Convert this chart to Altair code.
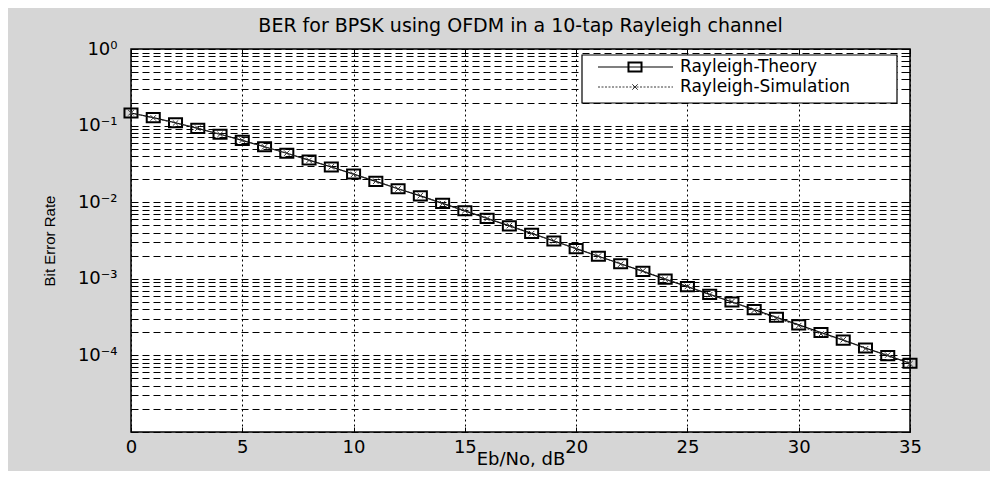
import altair as alt
import pandas as pd

# ---------------- data ----------------
ebno_db = list(range(0, 36))
ber_theory = [0.146, 0.127, 0.109, 0.0919, 0.0771, 0.0642, 0.0530, 0.0435, 0.0355, 0.0288,
              0.0233, 0.0187, 0.0150, 0.0121, 0.00966, 0.00772, 0.00616, 0.00491, 0.00392, 0.00312,
              0.00248, 0.00197, 0.00157, 0.00125, 0.000992, 0.000789, 0.000627, 0.000498, 0.000396, 0.000315,
              0.000250, 0.000199, 0.000158, 0.000125, 0.0000995, 0.0000791]
ber_sim = [0.147, 0.126, 0.108, 0.0925, 0.0768, 0.0645, 0.0528, 0.0437, 0.0352, 0.0290,
           0.0231, 0.0188, 0.0149, 0.0122, 0.00960, 0.00775, 0.00612, 0.00495, 0.00389, 0.00314,
           0.00246, 0.00198, 0.00155, 0.00127, 0.000985, 0.000795, 0.000620, 0.000505, 0.000388, 0.000305,
           0.000245, 0.000190, 0.000160, 0.000122, 0.000101, 0.0000780]
series_names = ["Rayleigh-Theory", "Rayleigh-Simulation"]
title_text = "BER for BPSK using OFDM in a 10-tap Rayleigh channel"
x_title = "Eb/No, dB"
y_title = "Bit Error Rate"
x_ticks = [0, 5, 10, 15, 20, 25, 30, 35]
y_major = [1, 0.1, 0.01, 0.001, 0.0001]
y_major_labels = ["10\u2070", "10\u207b\u00b9", "10\u207b\u00b2", "10\u207b\u00b3", "10\u207b\u2074"]
y_grid = [round(k * 10.0 ** e, 12) for e in range(-5, 0) for k in range(1, 10)] + [1.0]

# ---------------- layout ----------------
W, H = 779, 383
FONT = "DejaVu Sans"
RECT = "M-1,-0.7H1V0.7H-1Z"
XSHAPE = "M-1,-1L1,1M-1,1L1,-1"

df = pd.DataFrame({
    "ebno": ebno_db + ebno_db,
    "ber": ber_theory + ber_sim,
    "series": [series_names[0]] * len(ebno_db) + [series_names[1]] * len(ebno_db),
})
theory = df[df["series"] == series_names[0]]
sim = df[df["series"] == series_names[1]]

label_expr = "''"
for v, lab in reversed(list(zip(y_major, y_major_labels))):
    label_expr = f"abs(datum.value - {v}) < {v * 1e-6} ? '{lab}' : ({label_expr})"

xscale = alt.Scale(domain=[0, 35], nice=False, zero=False)
yscale = alt.Scale(type="log", domain=[1e-5, 1], nice=False)

main_x_axis = alt.Axis(
    values=x_ticks, format="d", grid=True, gridDash=[2, 3], gridColor="black", gridOpacity=1,
    gridWidth=1, ticks=False, domain=False, labelFont=FONT, labelFontSize=18, labelColor="black",
    labelPadding=6, labelFlush=False, labelOverlap=False, title=x_title, titleFont=FONT,
    titleFontSize=18, titleFontWeight="normal", titleColor="black", titleY=27,
    titleBaseline="middle")
main_y_axis = alt.Axis(
    values=y_grid, labelExpr=label_expr, grid=True, gridDash=[7, 4], gridColor="black",
    gridOpacity=1, gridWidth=1, ticks=False, domain=False, labelFont=FONT, labelFontSize=18,
    labelColor="black", labelPadding=14, labelOverlap=False, labelBound=False, title=y_title,
    titleFont="Liberation Sans", titleFontSize=15, titleFontWeight="normal", titleColor="black",
    titleX=-82, titleY=H / 2, titleAngle=270, titleAlign="center", titleBaseline="middle")


def tick_axis(orient, offset, values):
    return alt.Axis(orient=orient, offset=offset, values=values, ticks=True, tickSize=5,
                    tickColor="black", tickWidth=1, labels=False, grid=False, domain=False,
                    title="")


l_theory_line = alt.Chart(theory).mark_line(color="black", strokeWidth=1.2).encode(
    x=alt.X("ebno:Q", scale=xscale, axis=main_x_axis),
    y=alt.Y("ber:Q", scale=yscale, axis=main_y_axis))
l_sim_line = alt.Chart(sim).mark_line(color="#3a3a3a", strokeWidth=1, strokeDash=[2, 1.5]).encode(
    x=alt.X("ebno:Q", scale=xscale, axis=tick_axis("top", -H, x_ticks)),
    y=alt.Y("ber:Q", scale=yscale, axis=tick_axis("right", -W, y_grid)))
l_theory_pts = alt.Chart(theory).mark_point(shape=RECT, size=170, filled=False, color="black",
                                            strokeWidth=2, opacity=1).encode(
    x=alt.X("ebno:Q", scale=xscale, axis=tick_axis("bottom", -H, x_ticks)),
    y=alt.Y("ber:Q", scale=yscale, axis=tick_axis("left", -W, y_grid)))
l_sim_pts = alt.Chart(sim).mark_point(shape=XSHAPE, size=30, filled=False, color="#333333",
                                      strokeWidth=1, opacity=1).encode(
    x=alt.X("ebno:Q", scale=xscale, axis=None),
    y=alt.Y("ber:Q", scale=yscale, axis=None))

# ---------------- legend (drawn by hand) ----------------
one = pd.DataFrame({"name": [series_names[0]]})
two = pd.DataFrame({"name": [series_names[1]]})
leg_box = alt.Chart(one).mark_rect(fill="white", stroke="black", strokeWidth=1.2).encode(
    x=alt.value(451), x2=alt.value(766), y=alt.value(6), y2=alt.value(54))
leg_l1 = alt.Chart(one).mark_rule(color="black", strokeWidth=1.2).encode(
    x=alt.value(467), x2=alt.value(542), y=alt.value(18))
leg_p1 = alt.Chart(one).mark_point(shape=RECT, size=170, filled=False, color="black",
                                   strokeWidth=2, opacity=1).encode(x=alt.value(504), y=alt.value(18))
leg_t1 = alt.Chart(one).mark_text(align="left", baseline="middle", font=FONT, fontSize=17,
                                  color="black").encode(text="name:N", x=alt.value(549), y=alt.value(18))
leg_l2 = alt.Chart(two).mark_rule(color="#3a3a3a", strokeWidth=1, strokeDash=[2, 1.5]).encode(
    x=alt.value(467), x2=alt.value(542), y=alt.value(38))
leg_p2 = alt.Chart(two).mark_point(shape=XSHAPE, size=30, filled=False, color="#333333",
                                   strokeWidth=1, opacity=1).encode(x=alt.value(504), y=alt.value(38))
leg_t2 = alt.Chart(two).mark_text(align="left", baseline="middle", font=FONT, fontSize=17,
                                  color="black").encode(text="name:N", x=alt.value(549), y=alt.value(38))

chart = alt.layer(
    l_theory_line, l_theory_pts, l_sim_line, l_sim_pts,
    leg_box, leg_l1, leg_p1, leg_t1, leg_l2, leg_p2, leg_t2,
).resolve_axis(x="independent", y="independent").properties(
    width=W, height=H,
    padding={"left": 123, "top": 41, "right": 80, "bottom": 39},
    autosize=alt.AutoSizeParams(type="none"),
    background="#d6d6d6",
    title=alt.TitleParams(title_text, font=FONT, fontSize=19, fontWeight="normal",
                          color="black", offset=4),
).configure_view(stroke="black", strokeWidth=1.5, fill="white")

chart.save("out.html", embed_options={"renderer": "svg", "actions": False})
